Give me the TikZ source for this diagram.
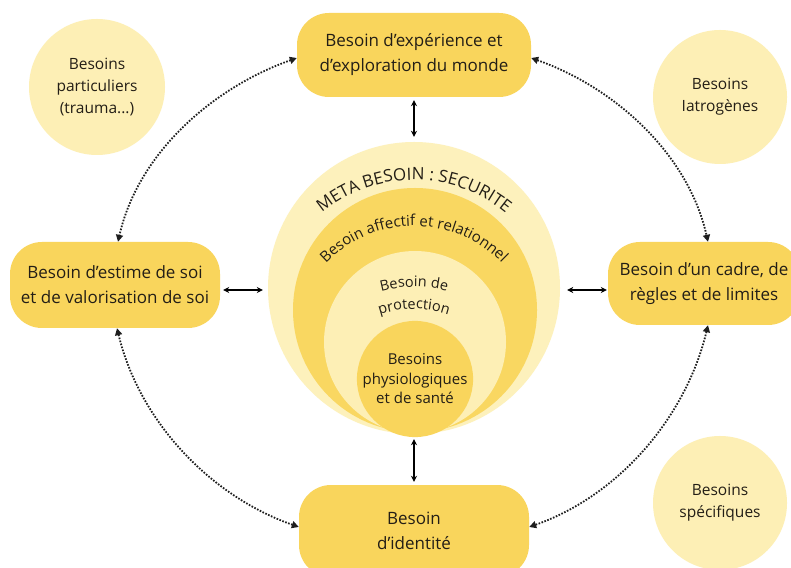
\documentclass[tikz,border=0pt]{standalone}
\usepackage{fontspec}
\setmainfont{Open Sans}
\usetikzlibrary{arrows.meta,decorations.text,calc}
\definecolor{boxy}{RGB}{249,213,92}
\definecolor{paley}{RGB}{253,239,181}
\definecolor{outery}{RGB}{253,241,188}
\definecolor{ringy}{RGB}{249,215,97}
\definecolor{txt}{RGB}{35,30,22}
\definecolor{dotc}{RGB}{30,30,30}
\begin{document}
\begin{tikzpicture}[x=1pt,y=1pt,
  box/.style={fill=boxy, rounded corners=32pt, text=txt, align=center, font=\fontsize{17}{25}\selectfont, inner sep=0pt},
  pale/.style={circle, fill=paley, inner sep=0pt, text=txt, align=center, font=\fontsize{15.5}{22}\selectfont},
  ring/.style={circle, inner sep=0pt},
  dbl/.style={{Stealth[length=6pt,width=6pt]}-{Stealth[length=6pt,width=6pt]}, line width=1.3pt, black},
  dotarr/.style={{Triangle[length=7pt,width=7pt]}-{Triangle[length=7pt,width=7pt]}, line width=1.8pt, dotc, dash pattern=on 1.6pt off 1.5pt},
  curvetext/.style={decorate, decoration={text along path, text align=center, text color=txt}}
]
\useasboundingbox (0,0) rectangle (791,567);
\clip (0,0) rectangle (791,567);
\fill[white] (0,0) rectangle (791,567);

% corner circles
\node[pale, minimum size=136pt] (tl) at (97,480) {Besoins\\particuliers\\(trauma...)};
\node[pale, minimum size=134pt] (tr) at (720,470) {Besoins\\Iatrogènes};
\node[pale, minimum size=134pt] (br) at (720,64) {Besoins\\spécifiques};

% boxes
\node[box, minimum width=234pt, minimum height=84pt] (top) at (414,512) {Besoin d’expérience et\\d’exploration du monde};
\node[box, minimum width=210pt, minimum height=86pt] (left) at (115,282) {Besoin d’estime de soi\\et de valorisation de soi};
\node[box, minimum width=192pt, minimum height=83pt] (right) at (704,283.5) {Besoin d’un cadre, de\\règles et de limites};
\node[box, minimum width=230pt, minimum height=92pt] (bottom) at (414,36) {Besoin\\d’identité};

% central nested circles
\node[ring, fill=outery, minimum size=292pt] (outer) at (414,279) {};
\node[ring, fill=ringy, minimum size=244pt] (aff) at (415,257) {};
\node[ring, fill=paley, minimum size=182pt] (prot) at (415,225) {};
\node[ring, fill=boxy, minimum size=106pt, align=center, text=txt, font=\fontsize{15}{19.5}\selectfont] (phys) at (415,188) {Besoins\\physiologiques\\et de santé};

% curved texts
\path[curvetext, decoration={text={|\fontsize{17}{17}\selectfont|META BESOIN : SECURITE}}] (414,243) ++(160:144) arc[start angle=160, end angle=20, radius=144];
\path[curvetext, decoration={text={|\fontsize{15}{15}\selectfont|Besoin affectif et relationnel}}] (414,218) ++(165:123) arc[start angle=165, end angle=15, radius=123];
\path[curvetext, decoration={text={|\fontsize{14.5}{14.5}\selectfont|Besoin de}}] (414,149) ++(120:131) arc[start angle=120, end angle=60, radius=131];
\path[curvetext, decoration={text={|\fontsize{14.5}{14.5}\selectfont|protection}}] (414,149) ++(125:109) arc[start angle=125, end angle=55, radius=109];

% solid double arrows
\draw[dbl] ([yshift=-3pt]top.south) -- ([yshift=5pt]outer.north);
\draw[dbl] ([yshift=-5pt]outer.south) -- ([yshift=3pt]bottom.north);
\draw[dbl] ($(left.east)+(3pt,-5pt)$) -- ($(outer.west)+(-5pt,-2pt)$);
\draw[dbl] ($(outer.east)+(7pt,-2pt)$) -- ($(right.west)+(-1pt,-6.5pt)$);

% dotted arcs
\draw[dotarr] ([yshift=-3pt]top.west) to[out=199.5, in=77.3, looseness=0.9] ([xshift=3pt]left.north);
\draw[dotarr] ([yshift=-3pt]top.east) to[out=-19.5, in=102.7, looseness=0.9] ([xshift=4pt]right.north);
\draw[dotarr] ([xshift=2pt]left.south) to[out=283.5, in=160.7, looseness=0.9] ([yshift=4pt]bottom.west);
\draw[dotarr] ([xshift=4pt]right.south) to[out=256.5, in=19.3, looseness=0.9] ([yshift=4pt]bottom.east);
\end{tikzpicture}
\end{document}
